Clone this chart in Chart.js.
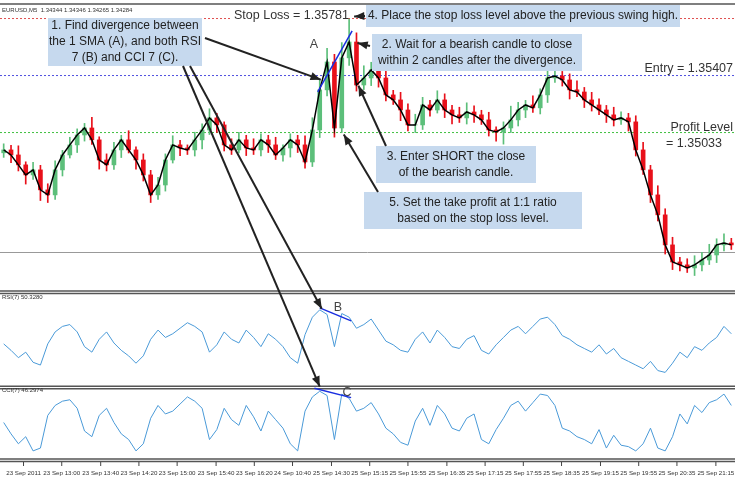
<!DOCTYPE html>
<html><head><meta charset="utf-8">
<script src="https://cdn.jsdelivr.net/npm/chart.js@4"></script>
<style>html,body{margin:0;padding:0;background:#fff}#w{width:735px;height:486px}</style>
</head><body><div id="w"><canvas id="c"></canvas></div>
<script>
const closes=[1.34919,1.34886,1.34821,1.34755,1.34788,1.34657,1.34624,1.34788,1.34886,1.34952,1.35017,1.35063,1.34985,1.34853,1.34821,1.34919,1.34985,1.34919,1.34853,1.34755,1.34624,1.34689,1.34853,1.34952,1.34932,1.34919,1.34985,1.35050,1.35129,1.35083,1.34952,1.34919,1.34985,1.34932,1.34919,1.34985,1.34952,1.34886,1.34932,1.34985,1.34952,1.34840,1.35050,1.35313,1.35496,1.35063,1.35523,1.35627,1.35345,1.35391,1.35444,1.35391,1.35280,1.35247,1.35181,1.35083,1.35083,1.35214,1.35181,1.35247,1.35181,1.35149,1.35129,1.35168,1.35149,1.35116,1.35050,1.35037,1.35063,1.35116,1.35181,1.35214,1.35195,1.35280,1.35391,1.35404,1.35378,1.35313,1.35299,1.35247,1.35214,1.35181,1.35149,1.35116,1.35129,1.35103,1.34919,1.34788,1.34624,1.34493,1.34296,1.34184,1.34165,1.34145,1.34165,1.34197,1.34230,1.34296,1.34309,1.34296];
const wickUp=[4,3,6,2,5,3,4,6,3,5,4,3,7,2,4,5,3,6,2,4,3,5,4,6,3,2,5,4,6,3,2,4,5,3,6,4,3,5,2,4,3,6,8,7,9,5,10,15,6,8,5,4,6,3,5,4,7,5,3,6,4,3,5,6,4,3,5,2,4,9,5,3,6,4,7,5,3,4,6,3,5,4,3,5,4,3,4,5,3,6,4,5,3,4,6,5,7,4,6,3];
const wickDn=[3,5,4,6,3,7,5,3,4,2,5,4,3,6,4,3,5,2,6,4,5,3,4,2,5,3,4,6,3,5,4,3,2,5,3,4,5,3,4,6,5,4,3,5,4,6,3,5,4,3,5,6,4,3,7,4,5,3,4,2,5,6,3,4,5,3,4,6,8,3,4,5,3,4,5,3,4,6,3,5,4,3,5,4,3,6,4,3,5,4,6,5,4,3,5,4,3,5,4,3];
const rsi=[45,38,30,36,25,22,45,58,64,66,58,42,36,50,58,46,38,32,24,32,50,60,52,56,62,68,64,58,36,44,58,50,46,60,52,42,56,50,42,30,24,55,74,82,77,42,78,74,62,66,72,60,48,44,38,36,50,58,46,60,52,42,40,50,54,38,34,44,52,60,64,56,64,72,74,66,54,50,44,40,36,44,34,40,30,26,22,18,26,16,14,24,36,30,42,38,46,52,64,56];
const cci=[0,-80,-150,-100,-200,-180,50,120,150,160,100,-60,-100,50,100,0,-80,-120,-200,-150,30,120,60,80,130,180,150,100,-120,-50,100,20,-20,120,40,-60,80,20,-40,-150,-200,80,180,220,190,-120,200,170,80,100,140,60,-40,-80,-140,-160,10,100,-20,120,60,-40,-60,30,60,-120,-150,-50,30,120,150,80,140,200,190,120,-40,-60,-100,-120,-150,-50,-180,-90,-160,-170,-200,-150,-40,-180,-200,-100,60,-10,120,70,140,160,200,120];
const tickLabels=["23 Sep 2011","23 Sep 13:00","23 Sep 13:40","23 Sep 14:20","23 Sep 15:00","23 Sep 15:40","23 Sep 16:20","24 Sep 10:40","25 Sep 14:30","25 Sep 15:15","25 Sep 15:55","25 Sep 16:35","25 Sep 17:15","25 Sep 17:55","25 Sep 18:35","25 Sep 19:15","25 Sep 19:55","25 Sep 20:35","25 Sep 21:15"];
const tickPos=[2.7,7.9,13.2,18.4,23.6,28.9,34.1,39.3,44.6,49.8,55.0,60.3,65.5,70.7,75.9,81.2,86.4,91.6,96.9];
const stopLoss=1.35781, entry=1.35407, profit=1.35033, base=1.34246;

const RED='#e8101a', GREEN='#5cbf7a';
const opens=closes.map((c,i)=>i?closes[i-1]:1.34900);
const bodies=closes.map((c,i)=>({x:i,y:[opens[i],c]}));
const wicks=closes.map((c,i)=>({x:i,y:[Math.min(opens[i],c)-wickDn[i]*0.0001,Math.max(opens[i],c)+wickUp[i]*0.0001]}));
const cols=closes.map((c,i)=>c<opens[i]?RED:GREEN);
const hl=(v,col,dash)=>({type:'line',yAxisID:'y',data:[{x:-0.5,y:v},{x:99.5,y:v}],borderColor:col,borderWidth:1,borderDash:dash,pointRadius:0,order:5});

function arrow(ctx,x1,y1,x2,y2){
  ctx.save();ctx.strokeStyle='#222';ctx.fillStyle='#222';ctx.lineWidth=2;
  ctx.beginPath();ctx.moveTo(x1,y1);ctx.lineTo(x2,y2);ctx.stroke();
  const a=Math.atan2(y2-y1,x2-x1),L=11,W=0.38;
  ctx.beginPath();ctx.moveTo(x2,y2);ctx.lineTo(x2-L*Math.cos(a-W),y2-L*Math.sin(a-W));ctx.lineTo(x2-L*Math.cos(a+W),y2-L*Math.sin(a+W));ctx.closePath();ctx.fill();
  ctx.restore();
}
function box(ctx,x,y,w,h,lines){
  ctx.save();ctx.fillStyle='#c6d9ee';ctx.fillRect(x,y,w,h);
  ctx.fillStyle='#222';ctx.font='12px "Liberation Sans", Arial';ctx.textAlign='center';ctx.textBaseline='middle';
  const lh=16, y0=y+h/2-(lines.length-1)*lh/2;
  lines.forEach((t,i)=>ctx.fillText(t,x+w/2,y0+i*lh));ctx.restore();
}
const deco={id:'deco',afterDatasetsDraw(ch){
  const ctx=ch.ctx,X=ch.scales.x,Y=ch.scales.y,R=ch.scales.rsi,C=ch.scales.cci;
  const px=i=>X.getPixelForValue(i);
  ctx.save();
  ctx.strokeStyle='#555';ctx.lineWidth=1.5;
  const yb=C.getPixelForValue(-250)+1;
  [Y.getPixelForValue(1.3400)+1,R.getPixelForValue(0)+1,yb].forEach(y=>{ctx.beginPath();ctx.moveTo(0,y);ctx.lineTo(735,y);ctx.moveTo(0,y+2.5);ctx.lineTo(735,y+2.5);ctx.stroke();});
  ctx.beginPath();ctx.moveTo(0,4);ctx.lineTo(735,4);ctx.stroke();
  ctx.lineWidth=1;ctx.strokeStyle='#444';ctx.fillStyle='#333';ctx.font='6.2px "Liberation Sans", Arial';ctx.textAlign='center';ctx.textBaseline='top';
  tickPos.forEach((v,i)=>{const x=px(v);ctx.beginPath();ctx.moveTo(x,yb+3);ctx.lineTo(x,yb+7);ctx.stroke();ctx.fillText(tickLabels[i],x,yb+11);});
  ctx.font='6px "Liberation Sans", Arial';ctx.textBaseline='middle';ctx.textAlign='left';
  ctx.fillText('EURUSD,M5  1.34344 1.34346 1.34265 1.34284',2,10);
  ctx.fillText('RSI(7) 50.3280',2,R.getPixelForValue(100)+4);
  ctx.fillText('CCI(7) 46.2974',2,C.getPixelForValue(250)+3);
  ctx.font='12.5px "Liberation Sans", Arial';
  const ySL=Y.getPixelForValue(stopLoss);
  ctx.fillStyle='#fff';ctx.fillRect(232,ySL-10,112,16);ctx.fillStyle='#333';ctx.fillText('Stop Loss = 1.35781',234,ySL-3);
  ctx.textAlign='right';
  const yE=Y.getPixelForValue(entry);ctx.fillText('Entry = 1.35407',733,yE-7);
  const yP=Y.getPixelForValue(profit);ctx.fillText('Profit Level',733,yP-5);ctx.fillText('= 1.35033',722,yP+11);
  ctx.textAlign='center';ctx.fillStyle='#444';
  ctx.fillText('A',314,45);ctx.fillText('B',338,308);ctx.fillText('C',347,393);
  ctx.strokeStyle='#1a2ee0';ctx.lineWidth=1.5;
  [[px(43)-2,Y.getPixelForValue(1.35300),px(47)+3,Y.getPixelForValue(1.35700)],
   [px(43),R.getPixelForValue(82)-2,px(47)+2,R.getPixelForValue(70)],
   [px(42)+2,C.getPixelForValue(220)-3,px(47)+2,C.getPixelForValue(175)]].forEach(s=>{ctx.beginPath();ctx.moveTo(s[0],s[1]);ctx.lineTo(s[2],s[3]);ctx.stroke();});
  box(ctx,48,18,154,48,['1. Find divergence between','the 1 SMA (A), and both RSI','7 (B) and CCI 7 (C).']);
  box(ctx,366,5,314,22,['4. Place the stop loss level above the previous swing high.']);
  box(ctx,372,34,210,37,['2. Wait for a bearish candle to close','within 2 candles after the divergence.']);
  box(ctx,376,146,160,37,['3. Enter SHORT the close','of the bearish candle.']);
  box(ctx,364,192,218,37,['5. Set the take profit at 1:1 ratio','based on the stop loss level.']);
  arrow(ctx,205,38,px(43)+1,Y.getPixelForValue(1.35380));
  arrow(ctx,190,66,px(43)+2,R.getPixelForValue(80)-3);
  arrow(ctx,183,66,px(43),C.getPixelForValue(225)-4);
  arrow(ctx,365,16,px(47)+5,ySL-2);
  arrow(ctx,370,46,px(48)+1,Y.getPixelForValue(1.35620));
  arrow(ctx,386,146,px(48)+2,Y.getPixelForValue(1.35340));
  arrow(ctx,378,192,px(46)+2,Y.getPixelForValue(1.35020));
  ctx.restore();
}};

new Chart(document.getElementById('c'),{
  data:{datasets:[
    {type:'bar',yAxisID:'y',data:wicks,backgroundColor:cols,barThickness:1,grouped:false,order:3},
    {type:'bar',yAxisID:'y',data:bodies,backgroundColor:cols,barThickness:4,grouped:false,order:2},
    {type:'line',yAxisID:'y',data:closes.map((c,i)=>({x:i,y:c})),borderColor:'#000',borderWidth:1.5,pointRadius:0,tension:0,order:1},
    hl(stopLoss,'#e05050',[2,2]),hl(entry,'#5050e0',[2,2]),hl(profit,'#40c040',[2,2]),hl(base,'#999',[]),
    {type:'line',yAxisID:'rsi',data:rsi.map((v,i)=>({x:i,y:v})),borderColor:'#4a9ad8',borderWidth:1,pointRadius:0,tension:0,order:1},
    {type:'line',yAxisID:'cci',data:cci.map((v,i)=>({x:i,y:v})),borderColor:'#4a9ad8',borderWidth:1,pointRadius:0,tension:0,order:1}
  ]},
  options:{responsive:true,maintainAspectRatio:false,animation:false,
    layout:{padding:{top:8,left:0,right:0,bottom:28}},
    plugins:{legend:{display:false},tooltip:{enabled:false}},
    scales:{
      x:{type:'linear',display:false,offset:false,grid:{offset:false},min:-0.5,max:99.5},
      y:{type:'linear',axis:'y',display:false,min:1.32898,max:1.35850},
      rsi:{type:'linear',axis:'y',display:false,min:-79,max:410},
      cci:{type:'linear',axis:'y',display:false,min:-250,max:2918}
    }},
  plugins:[deco]
});
</script></body></html>
